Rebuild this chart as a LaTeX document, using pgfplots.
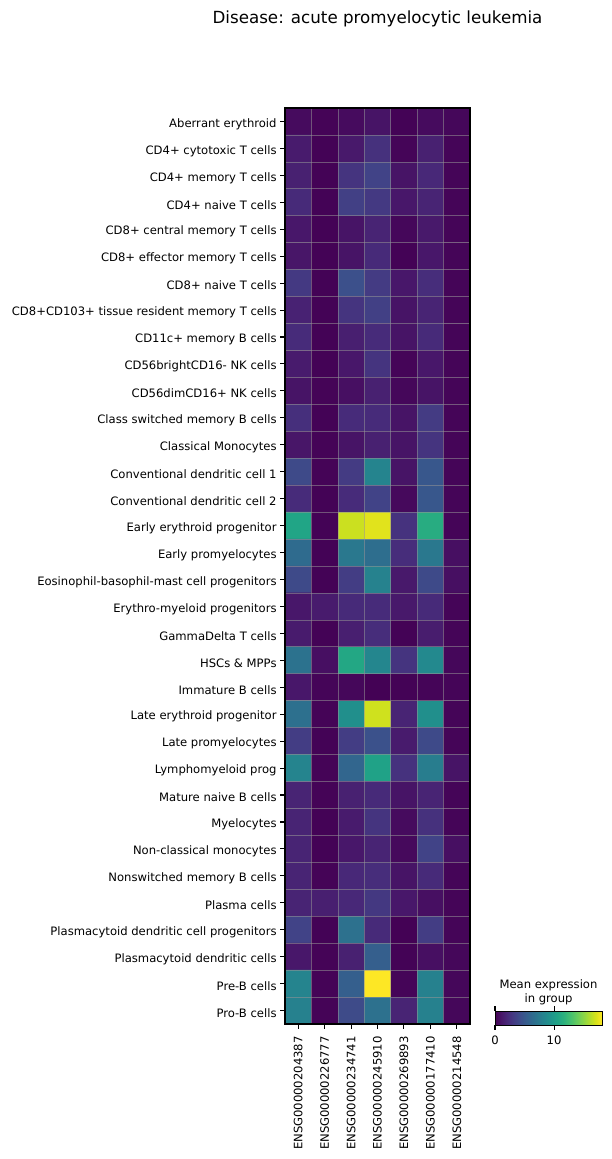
\documentclass[border=0pt]{standalone}
\usepackage{pgfplots}
\pgfplotsset{compat=1.18}
\usepackage{fontspec}
\setmainfont{DejaVu Sans}

% mean expression per cell type (rows) and gene (columns)
\pgfplotstableread[row sep=\\]{
x y c\\
0 0 0.5\\ 1 0 0.15\\ 2 0 0.5\\ 3 0 0.9\\ 4 0 0.1\\ 5 0 0.5\\ 6 0 0.3\\
0 1 1.3\\ 1 1 0.1\\ 2 1 1.2\\ 3 1 2.5\\ 4 1 0.2\\ 5 1 1.6\\ 6 1 0.2\\
0 2 1.6\\ 1 2 0.1\\ 2 2 2.7\\ 3 2 3.6\\ 4 2 0.9\\ 5 2 2.0\\ 6 2 0.2\\
0 3 2.1\\ 1 3 0.1\\ 2 3 3.4\\ 3 3 3.0\\ 4 3 1.1\\ 5 3 1.8\\ 6 3 0.2\\
0 4 1.1\\ 1 4 0.1\\ 2 4 0.9\\ 3 4 1.8\\ 4 4 0.3\\ 5 4 1.2\\ 6 4 0.2\\
0 5 1.0\\ 1 5 0.1\\ 2 5 0.9\\ 3 5 2.1\\ 4 5 0.1\\ 5 5 1.1\\ 6 5 0.2\\
0 6 3.0\\ 1 6 0.1\\ 2 6 4.4\\ 3 6 3.1\\ 4 6 1.1\\ 5 6 2.3\\ 6 6 0.2\\
0 7 1.7\\ 1 7 0.1\\ 2 7 2.7\\ 3 7 3.4\\ 4 7 0.9\\ 5 7 1.8\\ 6 7 0.2\\
0 8 2.2\\ 1 8 0.1\\ 2 8 1.5\\ 3 8 2.2\\ 4 8 0.9\\ 5 8 2.1\\ 6 8 0.2\\
0 9 1.3\\ 1 9 0.1\\ 2 9 1.1\\ 3 9 2.7\\ 4 9 0.2\\ 5 9 1.1\\ 6 9 0.2\\
0 10 0.9\\ 1 10 0.15\\ 2 10 0.7\\ 3 10 1.6\\ 4 10 0.3\\ 5 10 0.9\\ 6 10 0.2\\
0 11 2.4\\ 1 11 0.1\\ 2 11 2.2\\ 3 11 2.2\\ 4 11 0.9\\ 5 11 3.1\\ 6 11 0.2\\
0 12 1.0\\ 1 12 0.15\\ 2 12 0.9\\ 3 12 1.6\\ 4 12 0.9\\ 5 12 2.7\\ 6 12 0.2\\
0 13 4.0\\ 1 13 0.15\\ 2 13 3.1\\ 3 13 8.1\\ 4 13 0.9\\ 5 13 4.9\\ 6 13 0.2\\
0 14 2.2\\ 1 14 0.1\\ 2 14 2.2\\ 3 14 3.6\\ 4 14 0.4\\ 5 14 4.9\\ 6 14 0.2\\
0 15 10.6\\ 1 15 0.1\\ 2 15 16.7\\ 3 15 17.3\\ 4 15 2.6\\ 5 15 11.2\\ 6 15 0.2\\
0 16 6.3\\ 1 16 0.1\\ 2 16 7.2\\ 3 16 6.5\\ 4 16 2.3\\ 5 16 7.2\\ 6 16 0.7\\
0 17 4.0\\ 1 17 0.1\\ 2 17 3.2\\ 3 17 8.0\\ 4 17 1.2\\ 5 17 4.0\\ 6 17 0.7\\
0 18 1.1\\ 1 18 1.3\\ 2 18 2.1\\ 3 18 2.2\\ 4 18 1.2\\ 5 18 2.1\\ 6 18 0.2\\
0 19 1.3\\ 1 19 0.1\\ 2 19 1.5\\ 3 19 2.3\\ 4 19 0.1\\ 5 19 1.4\\ 6 19 0.2\\
0 20 6.8\\ 1 20 0.7\\ 2 20 10.8\\ 3 20 8.3\\ 4 20 2.7\\ 5 20 8.5\\ 6 20 0.3\\
0 21 1.1\\ 1 21 0.2\\ 2 21 0.3\\ 3 21 0.05\\ 4 21 0.1\\ 5 21 0.2\\ 6 21 0.2\\
0 22 6.6\\ 1 22 0.15\\ 2 22 9.0\\ 3 22 16.8\\ 4 22 1.8\\ 5 22 9.0\\ 6 22 0.2\\
0 23 3.2\\ 1 23 0.1\\ 2 23 3.2\\ 3 23 4.5\\ 4 23 1.3\\ 5 23 4.0\\ 6 23 0.2\\
0 24 8.1\\ 1 24 0.15\\ 2 24 5.9\\ 3 24 10.4\\ 4 24 2.6\\ 5 24 7.6\\ 6 24 0.9\\
0 25 1.8\\ 1 25 0.15\\ 2 25 1.6\\ 3 25 2.1\\ 4 25 0.9\\ 5 25 1.8\\ 6 25 0.2\\
0 26 1.8\\ 1 26 0.1\\ 2 26 1.3\\ 3 26 2.7\\ 4 26 0.5\\ 5 26 2.5\\ 6 26 0.2\\
0 27 1.8\\ 1 27 0.1\\ 2 27 1.1\\ 3 27 1.8\\ 4 27 0.4\\ 5 27 3.6\\ 6 27 0.7\\
0 28 1.8\\ 1 28 0.15\\ 2 28 2.0\\ 3 28 2.3\\ 4 28 0.9\\ 5 28 2.1\\ 6 28 0.2\\
0 29 1.8\\ 1 29 1.5\\ 2 29 2.0\\ 3 29 2.9\\ 4 29 1.1\\ 5 29 0.7\\ 6 29 0.2\\
0 30 3.6\\ 1 30 0.1\\ 2 30 6.7\\ 3 30 2.1\\ 4 30 0.05\\ 5 30 3.2\\ 6 30 0.2\\
0 31 1.1\\ 1 31 0.15\\ 2 31 1.6\\ 3 31 5.4\\ 4 31 0.1\\ 5 31 0.7\\ 6 31 0.3\\
0 32 8.1\\ 1 32 0.15\\ 2 32 5.4\\ 3 32 18.1\\ 4 32 0.2\\ 5 32 7.9\\ 6 32 0.3\\
0 33 7.9\\ 1 33 0.15\\ 2 33 4.1\\ 3 33 6.7\\ 4 33 1.8\\ 5 33 7.9\\ 6 33 0.3\\
}\expr

\newcommand{\lblfont}{\fontsize{11.6}{13.5}\selectfont}
\definecolor{celledge}{RGB}{150,150,150}

\begin{document}
\begin{tikzpicture}[x=1pt,y=1pt]
\useasboundingbox (0,0) rectangle (612,1159);
\node[font=\fontsize{16.7}{20}\selectfont] at (377.5,1140) {Disease: acute promyelocytic leukemia};
\begin{axis}[
  at={(285pt,135pt)}, anchor=south west,
  width=185pt, height=916pt, scale only axis,
  xmin=-0.5, xmax=6.5, ymin=-0.5, ymax=33.5, y dir=reverse,
  colormap/viridis, point meta min=0, point meta max=18.1,
  xtick={0,...,6}, ytick={0,...,33},
  xticklabels={ENSG00000204387,ENSG00000226777,ENSG00000234741,ENSG00000245910,ENSG00000269893,ENSG00000177410,ENSG00000214548},
  yticklabels={Aberrant erythroid,CD4+ cytotoxic T cells,CD4+ memory T cells,CD4+ naive T cells,CD8+ central memory T cells,CD8+ effector memory T cells,CD8+ naive T cells,CD8+CD103+ tissue resident memory T cells,CD11c+ memory B cells,CD56brightCD16- NK cells,CD56dimCD16+ NK cells,Class switched memory B cells,Classical Monocytes,Conventional dendritic cell 1,Conventional dendritic cell 2,Early erythroid progenitor,Early promyelocytes,Eosinophil-basophil-mast cell progenitors,Erythro-myeloid progenitors,GammaDelta T cells,HSCs \& MPPs,Immature B cells,Late erythroid progenitor,Late promyelocytes,Lymphomyeloid prog,Mature naive B cells,Myelocytes,Non-classical monocytes,Nonswitched memory B cells,Plasma cells,Plasmacytoid dendritic cell progenitors,Plasmacytoid dendritic cells,Pre-B cells,Pro-B cells},
  xticklabel style={rotate=90, anchor=east},
  xticklabel shift=4pt,
  yticklabel style={yshift=-2.5pt},
  ticklabel style={font=\lblfont},
  tick align=outside, tick pos=left, major tick length=4.9pt,
  tick style={black, line width=1.1pt},
  minor xtick={0.5,1.5,...,5.5}, minor ytick={0.5,1.5,...,32.5},
  minor tick length=0pt,
  grid=minor, minor grid style={draw=celledge, line width=0.7pt, opacity=0.55},
  axis on top, axis line style={line width=1.4pt},
  colorbar horizontal,
  colorbar style={
    at={(parent axis.south east)}, anchor=south west,
    xshift=25pt, yshift=7.5pt,
    width=107pt, height=14pt,
    xtick={0,10}, ytick=\empty,
    xticklabel pos=lower,
    xticklabel style={rotate=0, anchor=north, font=\lblfont},
    xticklabel shift=2pt,
    /pgf/number format/assume math mode=true,
    tick align=outside, major tick length=4.9pt,
    tick style={black, line width=1.1pt},
    axis line style={line width=1pt},
    title={Mean expression\\in group},
    title style={align=center, font=\lblfont, yshift=-3pt},
  },
]
\addplot[matrix plot*, mesh/cols=7, point meta=explicit] table[x=x, y=y, meta=c] {\expr};
\end{axis}
\end{tikzpicture}
\end{document}
